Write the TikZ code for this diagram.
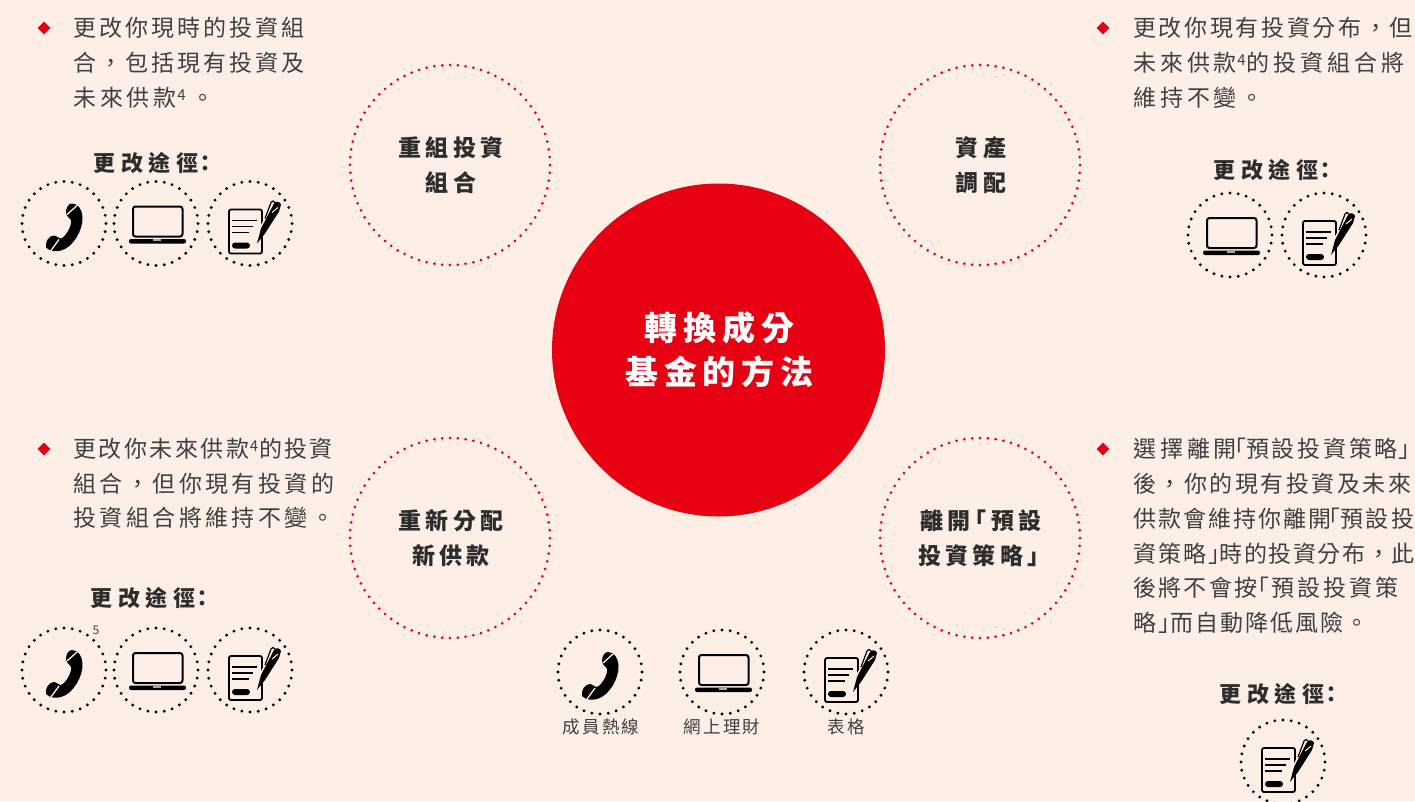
\documentclass[tikz,border=0pt]{standalone}
\usepackage{fontspec}
\newfontfamily\bodyfont{Noto Sans CJK TC}
\newfontfamily\circfont[LetterSpace=18]{Noto Sans CJK TC}
\newfontfamily\hubfont[LetterSpace=18]{Noto Sans CJK TC}
\newfontfamily\smallfont[LetterSpace=13]{Noto Sans CJK TC}
\newfontfamily\latinfont{Noto Sans CJK TC}
\definecolor{bgc}{HTML}{FDEFE6}
\definecolor{redc}{HTML}{E60012}
\definecolor{txt}{HTML}{404040}
\newcommand{\ls}[2]{{\addfontfeature{LetterSpace=#1}#2}}
\newcommand{\opq}{\kern-.6em「}
\newcommand{\clq}{」\kern-.6em}
\newcommand{\copq}{\kern-.3em「}
\newcommand{\cclq}{」\kern-.3em}
\newcommand{\supf}{\kern.5pt\raisebox{6.5pt}{\latinfont\fontsize{15}{15}\selectfont 4}\kern1pt}
\usetikzlibrary{shapes.geometric}
\tikzset{
  x=1pt,y=-1pt,
  bodyline/.style={anchor=west,inner sep=0pt,text=txt,font=\fontsize{23}{23}\selectfont\bodyfont},
  wayhead/.style={anchor=center,inner sep=0pt,text=txt!70!black,font=\fontsize{22}{22}\selectfont\bodyfont\bfseries\addfontfeature{LetterSpace=25}},
  circhead/.style={anchor=center,inner sep=0pt,text=txt!70!black,font=\fontsize{23}{23}\selectfont\circfont\bfseries},
  centerhead/.style={anchor=center,inner sep=0pt,text=white,font=\fontsize{33}{33}\selectfont\hubfont\bfseries},
  iconlabel/.style={anchor=center,inner sep=0pt,text=txt,font=\fontsize{17.5}{18}\selectfont\smallfont},
  bigdots/.style={circle,minimum size=200pt,inner sep=0pt,draw=redc,line width=3pt,line cap=round,dash pattern=on 0pt off 7.854pt},
  icondots/.style={circle,minimum size=84pt,inner sep=0pt,draw=black,line width=3.2pt,line cap=round,dash pattern=on 0pt off 8.247pt},
  bulletmark/.style={diamond,aspect=1,minimum size=13pt,inner sep=0pt,fill=redc},
  phoneicon/.pic={
    \fill[black] (8,-20) .. controls (14,-20) and (18,-14) .. (18.5,-7)
      .. controls (19.5,6) and (9,24) .. (-3,27)
      .. controls (-8,28.5) and (-14,28) .. (-18,24)
      .. controls (-19,18) and (-15,12) .. (-10,12)
      .. controls (-8,12) and (-5,15) .. (-3,15)
      .. controls (2,13) and (8,2) .. (7,-3)
      .. controls (6.5,-5) and (2,-7) .. (2,-11)
      .. controls (2,-15) and (4,-20) .. (8,-20) -- cycle;
    \draw[bgc,line width=1.3pt] (3,-9) -- (13,-18);
    \draw[bgc,line width=1.3pt] (-5,16) -- (-13,27);
  },
  laptopicon/.pic={
    \draw[black,line width=2pt,rounded corners=2.5pt] (-23,-17) rectangle (26.5,13);
    \fill[black,rounded corners=2pt] (-27,15.5) rectangle (30,20);
    \fill[gray!70] (-3,15.5) rectangle (5,17.5);
  },
  formicon/.pic={
    \draw[black,line width=1.8pt,rounded corners=2pt] (-21,-14) rectangle (12,30);
    \draw[black,line width=1.6pt] (-18,-3) -- (7,-3) (-18,3) -- (3,3) (-18,9) -- (-1,9);
    \fill[black,rounded corners=3pt] (-18,19) rectangle (0,25);
    \draw[bgc,line width=9pt] (12,9) -- (27,-19);
    \fill[black] (7,20) -- (11,5) -- (24,-20) .. controls (26,-23) and (30,-22) .. (31,-19) -- (29,-12) -- (15,10) -- cycle;
    \draw[black,line width=1.2pt] (15,-5) -- (21,-21) .. controls (22,-23) and (24,-23) .. (25,-21);
    \draw[bgc,line width=1pt] (22,-11) -- (28,-16);
  }
}
\begin{document}
\begin{tikzpicture}
\fill[bgc] (0,0) rectangle (1415,801);
\useasboundingbox (0,0) rectangle (1415,801);

% centre
\node[circle,fill=redc,minimum size=333pt,inner sep=0pt] (hub) at (718.5,350) {};
\node[centerhead] (hubA) at (719.5,328) {轉換成分};
\node[centerhead] (hubB) at (719.5,372) {基金的方法};

% four dotted circles
\node[bigdots] (q1) at (450,165) {};
\node[bigdots] (q2) at (980,165) {};
\node[bigdots] (q3) at (450,538) {};
\node[bigdots] (q4) at (980,538) {};
\node[circhead] (q1a) at (451,148) {重組投資};
\node[circhead] (q1b) at (451,183) {組合};
\node[circhead] (q2a) at (981,148) {資產};
\node[circhead] (q2b) at (981,183) {調配};
\node[circhead] (q3a) at (451,521) {重新分配};
\node[circhead] (q3b) at (451,556) {新供款};
\node[circhead] (q4a) at (981,521) {離開\copq 預設};
\node[circhead] (q4b) at (981,556) {投資策略\cclq};

% top left
\node[bulletmark] (b1) at (44,28) {};
\node[bodyline] (t1a) at (73,28) {\ls{13}{更改你現時的投資組}};
\node[bodyline] (t1b) at (73,63) {\ls{13}{合，包括現有投資及}};
\node[bodyline] (t1c) at (73,98) {\ls{17}{未來供款}\supf{} 。};
\node[wayhead] (w1) at (155,163) {更改途徑\kern-.2em：};
\node[icondots] (i1) at (64,223.5) {};
\node[icondots] (i2) at (156,223.5) {};
\node[icondots] (i3) at (250,223.5) {};
\pic at (i1) {phoneicon};
\pic at (i2) {laptopicon};
\pic at (i3) {formicon};

% top right
\node[bulletmark] (b2) at (1103,28) {};
\node[bodyline] (t2a) at (1133,28) {\ls{11.5}{更改你現有投資分布，但}};
\node[bodyline] (t2b) at (1133,63) {\ls{17}{未來供款}\supf\ls{17}{的投資組合將}};
\node[bodyline] (t2c) at (1133,98) {\ls{17}{維持不變。}};
\node[wayhead] (w2) at (1275,170) {更改途徑\kern-.2em：};
\node[icondots] (i4) at (1230,235) {};
\node[icondots] (i5) at (1324,235) {};
\pic at (i4) {laptopicon};
\pic at (i5) {formicon};

% lower left
\node[bulletmark] (b3) at (44,449) {};
\node[bodyline] (t3a) at (73,449) {\ls{11}{更改你未來供款}\supf\ls{9}{的投資}};
\node[bodyline] (t3b) at (73,484) {\ls{15}{組合，但你現有投資的}};
\node[bodyline] (t3c) at (73,518) {\ls{15}{投資組合將維持不變。}};
\node[wayhead] (w3) at (152,598) {更改途徑\kern-.2em：};
\node[icondots] (i6) at (64,670) {};
\node[icondots] (i7) at (156,670) {};
\node[icondots] (i8) at (250,670) {};
\pic at (i6) {phoneicon};
\pic at (i7) {laptopicon};
\pic at (i8) {formicon};
\node[anchor=center,inner sep=0pt,text=txt,font=\fontsize{12}{12}\selectfont\latinfont] (five) at (96,630) {5};

% lower right
\node[bulletmark] (b4) at (1103,449) {};
\node[bodyline] (t4a) at (1133,449) {\ls{17}{選擇離開}\opq\ls{12}{預設投資策略}\kern1pt\clq};
\node[bodyline] (t4b) at (1133,484) {\ls{11}{後，你的現有投資及未來}};
\node[bodyline] (t4c) at (1133,519) {\ls{9}{供款會維持你離開}\opq\ls{9}{預設投}};
\node[bodyline] (t4d) at (1133,554) {\ls{9}{資策略}\kern2pt\clq\kern2pt\ls{7}{時的投資分布，此}};
\node[bodyline] (t4e) at (1133,588) {\ls{10}{後將不會按}\kern2.5pt\opq\kern2.5pt\ls{13}{預設投資策}};
\node[bodyline] (t4f) at (1133,623) {略\kern2pt\clq\kern3pt\ls{9}{而自動降低風險。}};
\node[wayhead] (w4) at (1281,694) {更改途徑\kern-.2em：};
\node[icondots] (i9) at (1283,762) {};
\pic at (i9) {formicon};

% legend
\node[icondots] (l1) at (600,672) {};
\node[icondots] (l2) at (722,672) {};
\node[icondots] (l3) at (846,672) {};
\pic at (l1) {phoneicon};
\pic at (l2) {laptopicon};
\pic at (l3) {formicon};
\node[iconlabel] (l1t) at (601,727) {成員熱線};
\node[iconlabel] (l2t) at (722,727) {網上理財};
\node[iconlabel] (l3t) at (846,727) {表格};
\end{tikzpicture}
\end{document}
